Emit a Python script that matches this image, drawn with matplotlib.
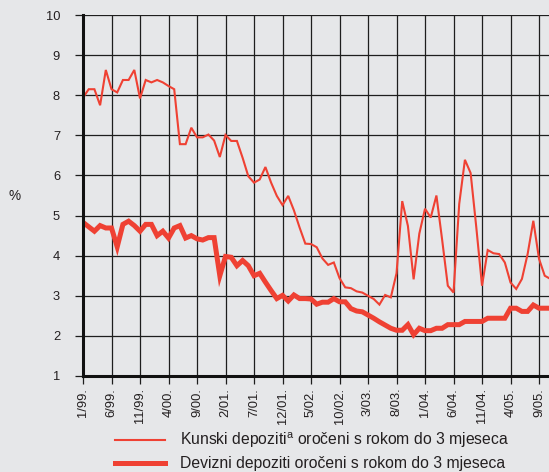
import matplotlib
matplotlib.use("Agg")
import matplotlib.pyplot as plt
from matplotlib.lines import Line2D

plt.rcParams['font.family'] = ['Liberation Sans', 'DejaVu Sans']
plt.rcParams['mathtext.fontset'] = 'custom'
plt.rcParams['mathtext.rm'] = 'Liberation Sans'
plt.rcParams['mathtext.it'] = 'Liberation Sans'

# monthly data, index 0 = 1/99
kunski = [7.94, 8.15, 8.15, 7.75, 8.63, 8.15, 8.07, 8.38, 8.38, 8.63,
          7.92, 8.38, 8.32, 8.38, 8.32, 8.23, 8.15, 6.78, 6.78, 7.19,
          6.95, 6.95, 7.02, 6.87, 6.46, 7.01, 6.86, 6.86, 6.44, 5.98,
          5.82, 5.90, 6.21, 5.82, 5.49, 5.26, 5.49, 5.13, 4.70, 4.30,
          4.29, 4.21, 3.93, 3.77, 3.83, 3.44, 3.21, 3.19, 3.11, 3.08,
          3.00, 2.92, 2.78, 3.02, 2.96, 3.56, 5.36, 4.74, 3.41, 4.55,
          5.17, 4.95, 5.50, 4.40, 3.25, 3.08, 5.29, 6.39, 6.06, 4.70,
          3.25, 4.14, 4.06, 4.04, 3.83, 3.33, 3.17, 3.42, 4.04, 4.87,
          3.92, 3.50, 3.42]
devizni = [4.83, 4.72, 4.61, 4.75, 4.69, 4.69, 4.22, 4.78, 4.86, 4.75,
           4.61, 4.78, 4.78, 4.50, 4.61, 4.44, 4.69, 4.75, 4.44, 4.50,
           4.42, 4.39, 4.45, 4.45, 3.50, 3.98, 3.96, 3.75, 3.88, 3.75,
           3.50, 3.56, 3.34, 3.13, 2.93, 3.01, 2.87, 3.02, 2.93, 2.93,
           2.92, 2.79, 2.84, 2.84, 2.93, 2.85, 2.85, 2.68, 2.62, 2.60,
           2.52, 2.44, 2.35, 2.27, 2.19, 2.14, 2.14, 2.28, 2.03, 2.19,
           2.13, 2.13, 2.19, 2.19, 2.28, 2.28, 2.28, 2.36, 2.36, 2.36,
           2.36, 2.44, 2.44, 2.44, 2.44, 2.69, 2.69, 2.61, 2.61, 2.77,
           2.69, 2.69, 2.69]
tick_labels = ["1/99.", "6/99.", "11/99.", "4/00.", "9/00.", "2/01.", "7/01.",
               "12/01.", "5/02.", "10/02.", "3/03.", "8/03.", "1/04.", "6/04.",
               "11/04.", "4/05.", "9/05."]
y_ticks = [1, 2, 3, 4, 5, 6, 7, 8, 9, 10]
label_kunski = "Kunski depoziti$^{\\mathrm{a}}$ oročeni s rokom do 3 mjeseca"
label_devizni = "Devizni depoziti oročeni s rokom do 3 mjeseca"

bg = '#e6e7e9'
red = '#ef4133'
txt = '#231f20'

fig = plt.figure(figsize=(5.49, 4.72), dpi=100, facecolor=bg)
ax = fig.add_axes([0.1512, 0.2034, 0.8488, 0.7648], facecolor=bg)

x = list(range(len(kunski)))
ax.plot(x, kunski, color=red, lw=1.5, solid_joinstyle='miter', zorder=3)
ax.plot(x, devizni, color=red, lw=3.6, solid_joinstyle='miter', zorder=3)

ax.set_xlim(0, 81.75)
ax.set_ylim(1, 10)
ax.set_yticks(y_ticks)
ax.set_yticklabels([str(v) for v in y_ticks])
xt = [5 * i for i in range(len(tick_labels))]
ax.set_xticks(xt)
ax.set_xticklabels(tick_labels, rotation=90, va='top', ha='center')

ax.grid(True, color='#1e1e1e', lw=0.9)
ax.set_axisbelow(True)
for s in ['top', 'right']:
    ax.spines[s].set_visible(False)
for s in ['left', 'bottom']:
    ax.spines[s].set_linewidth(2.2)
    ax.spines[s].set_color('#111111')
    ax.spines[s].set_zorder(4)
ax.tick_params(axis='both', direction='out', length=5.5, width=0.9,
               color='#1e1e1e', labelsize=9.3, labelcolor=txt)
ax.tick_params(axis='y', pad=11)
ax.tick_params(axis='x', pad=3)

fig.text(0.027, 0.585, "%", fontsize=9.8, color=txt, ha='center', va='center')

# legend
for yy, lw, lab in [(0.0678, 1.5, label_kunski), (0.019, 3.6, label_devizni)]:
    fig.add_artist(Line2D([0.2095, 0.3005], [yy, yy], color=red, lw=lw,
                          transform=fig.transFigure))
    fig.text(0.328, yy, lab, fontsize=11.3, color=txt, ha='left', va='center')

fig.savefig("out.png", dpi=100, facecolor=bg)
